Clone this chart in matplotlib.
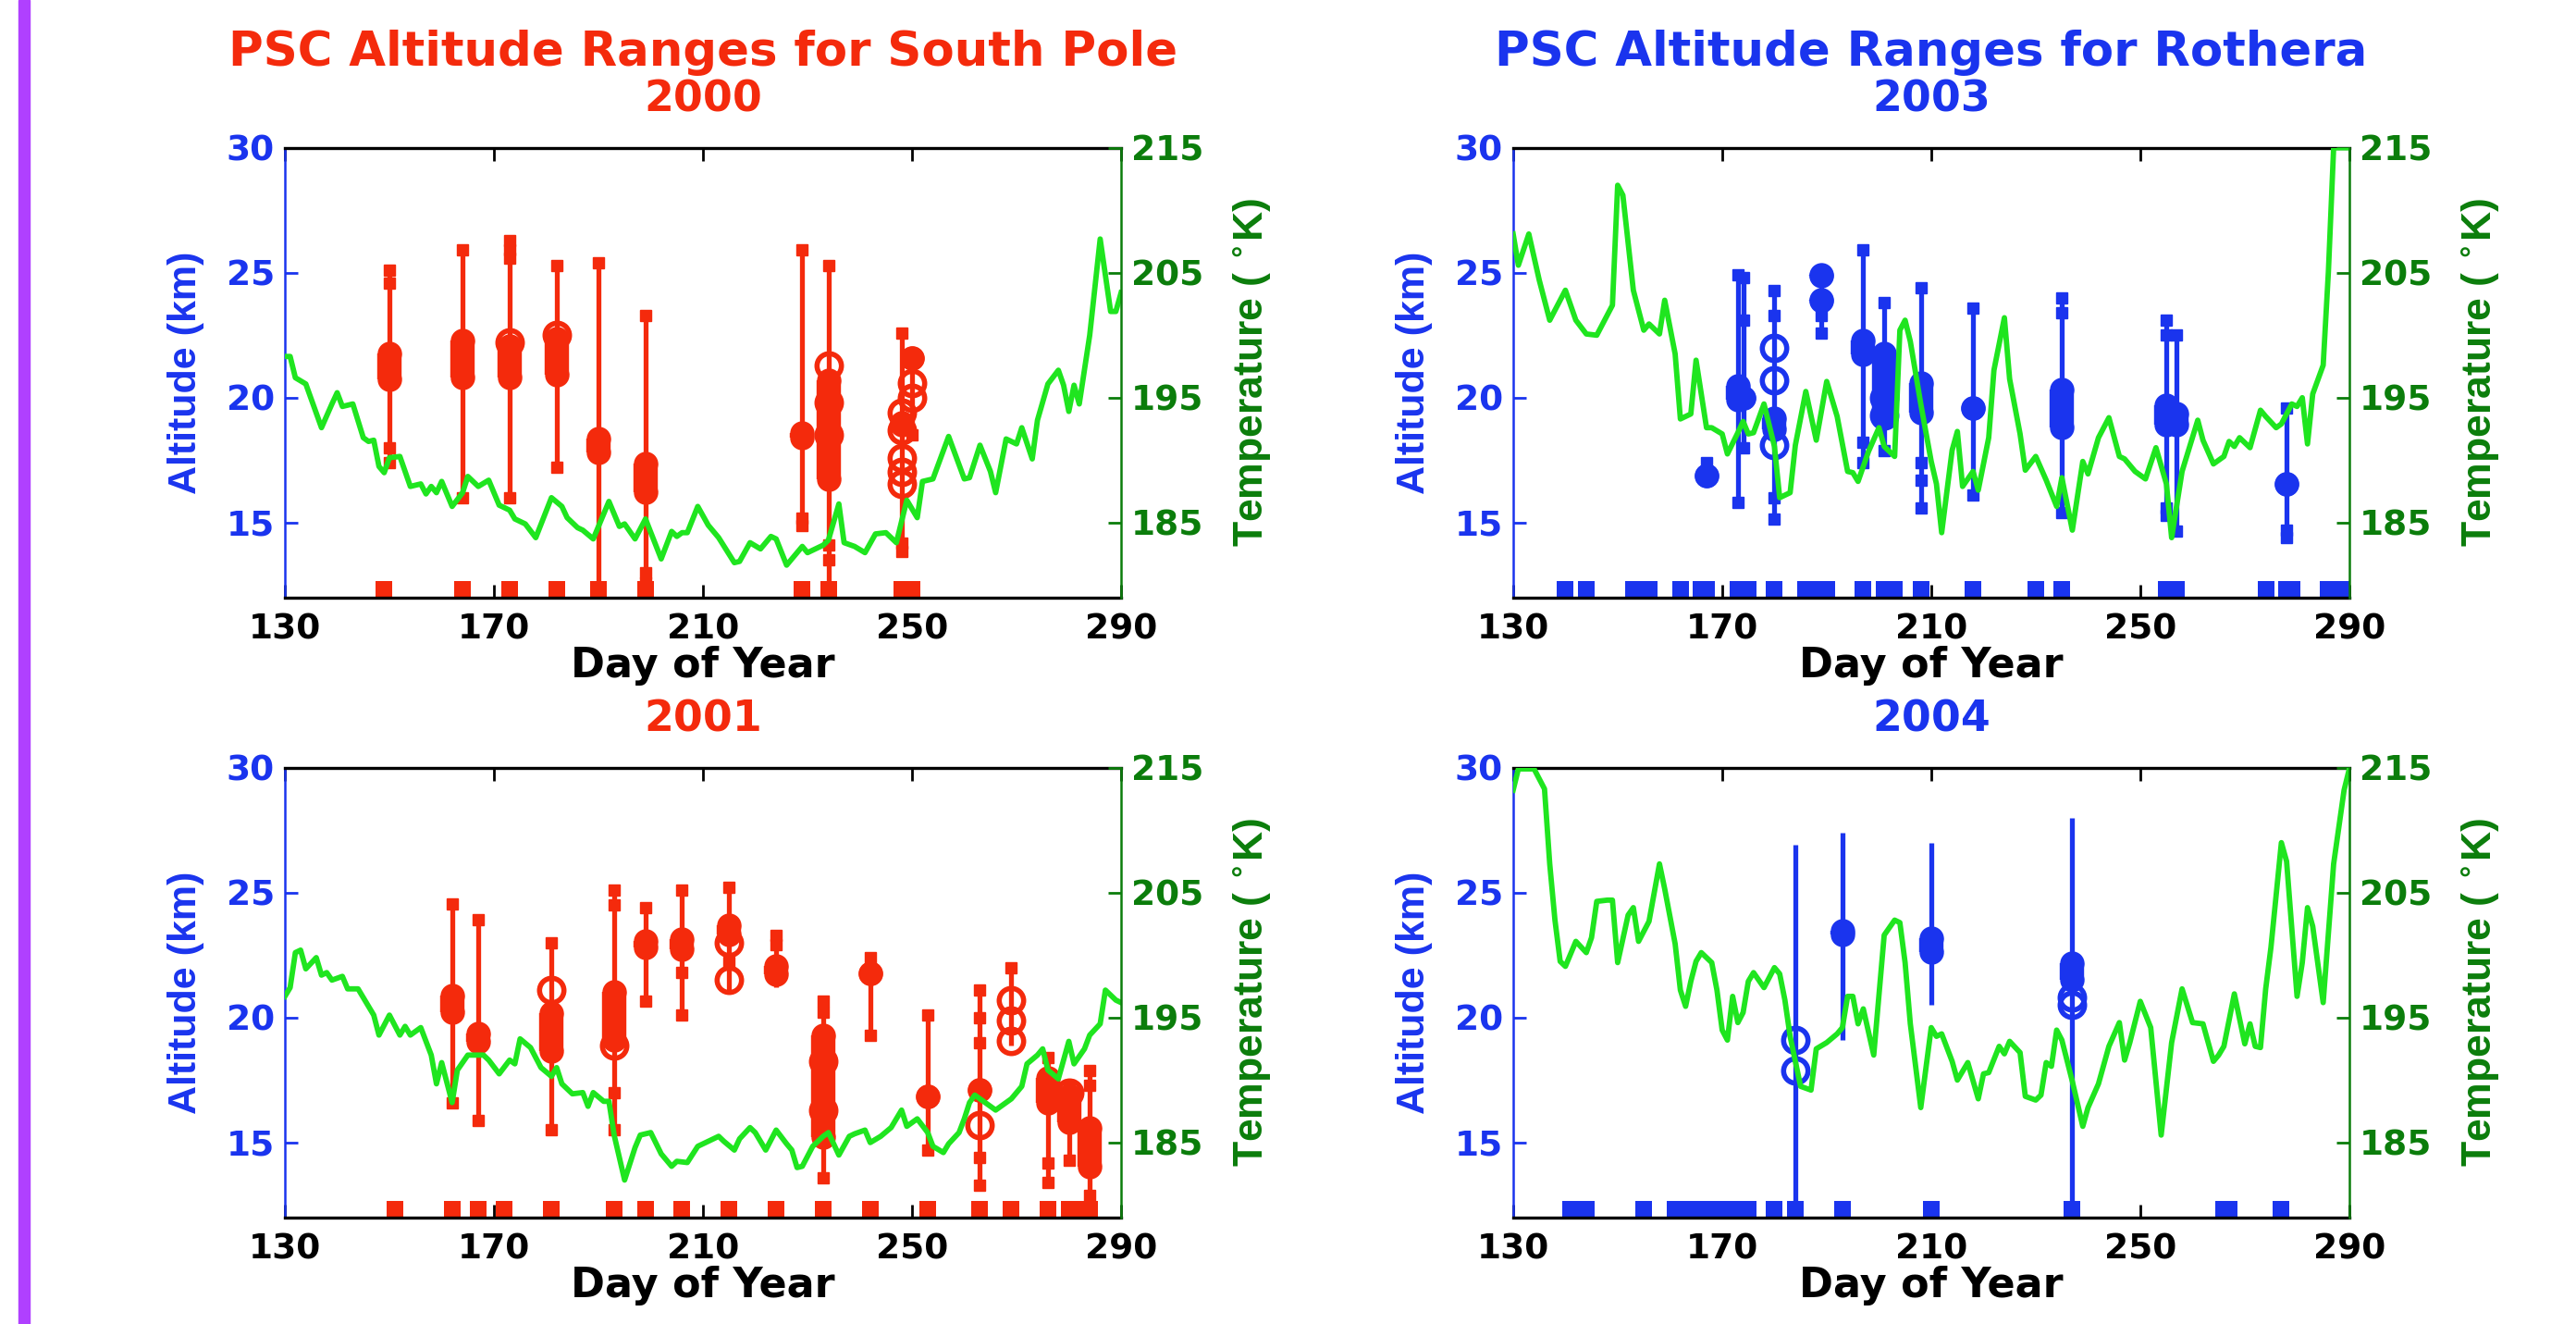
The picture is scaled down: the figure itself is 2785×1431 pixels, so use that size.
import matplotlib
matplotlib.use('Agg')
import matplotlib.pyplot as plt
from matplotlib.patches import Rectangle

plt.rcParams['font.family'] = ['DejaVu Sans']
plt.rcParams['font.weight'] = 'bold'

RED = '#f42a0c'
BLUE = '#1a34ee'
GREEN = '#1fe51f'
DKGREEN = '#0b7d0b'
PURPLE = '#b040ff'

# ---- South Pole 2000 ----
t2000_day = [130, 131, 132, 134, 137, 139, 140, 141, 143, 145, 146, 147, 148, 149, 150, 152, 154, 156, 157,
             158, 159, 160, 162, 164, 165, 167, 169, 171, 173, 174, 176, 178, 181, 183, 184, 186, 187, 189,
             192, 194, 195, 197, 199, 202, 204, 205, 206, 207, 209, 211, 213, 216, 217, 219, 221, 223, 224,
             226, 229, 230, 233, 234, 236, 237, 239, 241, 243, 245, 247, 249, 251, 252, 254, 257, 260, 261,
             263, 265, 266, 268, 270, 271, 273, 274, 276, 278, 279, 280, 281, 282, 284, 286, 288, 289, 290]
t2000_temp = [198.3, 198.3, 196.6, 196.1, 192.6, 194.5, 195.4, 194.3, 194.5, 191.8, 191.5, 191.6, 189.5, 189.0,
              190.2, 190.3, 187.9, 188.1, 187.3, 187.9, 187.4, 188.3, 186.3, 187.4, 188.7, 187.9, 188.4, 186.4,
              186.0, 185.3, 184.9, 183.8, 187.0, 186.3, 185.4, 184.6, 184.4, 183.7, 186.7, 184.7, 184.9, 183.7,
              185.3, 182.1, 184.3, 183.9, 184.2, 184.2, 186.3, 184.8, 183.8, 181.8, 181.9, 183.4, 182.9, 183.9,
              183.7, 181.6, 183.1, 182.6, 183.2, 183.6, 186.5, 183.4, 183.1, 182.6, 184.1, 184.2, 183.4, 186.8,
              185.4, 188.3, 188.5, 191.9, 188.5, 188.6, 191.2, 189.1, 187.4, 191.7, 191.3, 192.6, 190.1, 193.2,
              196.1, 197.2, 196.0, 193.9, 196.0, 194.5, 200.0, 207.7, 201.9, 201.9, 203.4]
p2000_day = [150, 164, 173, 182, 190, 199, 229, 234, 248, 250]
p2000_lo = [17.4, 16.0, 16.0, 17.2, 12.0, 12.6, 14.9, 12.0, 13.85, 18.5]
p2000_hi = [25.1, 25.9, 26.35, 25.3, 25.4, 23.3, 25.9, 25.3, 22.6, 22.0]
p2000_blob = [[(20.3, 22.2)], [(20.4, 22.7)], [(20.4, 22.5)], [(20.5, 22.8)], [(17.4, 18.8)], [(15.8, 17.8)],
              [(18.0, 19.0)], [(16.3, 21.1)], [(18.5, 19.4)], [(21.2, 22.0)]]
p2000_ring = [[], [], [22.2], [22.5], [], [], [], [21.3, 19.8, 18.5], [19.4, 18.7, 17.6, 17.05, 16.55],
              [20.6, 20.0]]
p2000_cap = [[25.1, 24.6, 18.0, 17.4], [25.9, 16.0], [26.3, 25.9, 25.6, 16.0], [25.3, 17.2], [25.4],
             [23.3, 13.0, 12.6], [25.9, 15.2, 14.9], [25.3, 14.1, 13.5], [22.6, 14.2, 13.85], [18.5]]
obs2000 = [149, 164, 173, 182, 190, 199, 229, 234, 248, 250]

# ---- South Pole 2001 ----
t2001_day = [130, 131, 132, 133, 134, 136, 137, 138, 139, 141, 142, 144, 146, 147, 148, 150, 152, 153, 154,
             156, 158, 159, 160, 162, 163, 165, 168, 169, 171, 173, 174, 175, 177, 179, 181, 182, 183, 185,
             187, 188, 189, 191, 192, 193, 195, 197, 198, 200, 202, 204, 205, 207, 209, 211, 213, 214, 216,
             217, 219, 220, 222, 224, 226, 227, 228, 229, 231, 233, 234, 236, 238, 239, 241, 242, 244, 246,
             248, 249, 251, 253, 254, 256, 257, 259, 260, 261, 262, 264, 266, 267, 269, 271, 272, 274, 275,
             276, 278, 280, 281, 283, 284, 286, 287, 289, 290]
t2001_temp = [196.7, 197.4, 200.2, 200.4, 198.9, 199.8, 198.4, 198.6, 198.0, 198.3, 197.3, 197.3, 195.9, 195.2,
              193.6, 195.2, 193.6, 194.3, 193.6, 194.2, 192.0, 189.7, 191.4, 188.2, 190.8, 192.0, 192.0, 191.6,
              190.5, 191.6, 191.3, 193.3, 192.6, 191.0, 190.3, 191.0, 189.7, 188.9, 189.0, 187.9, 189.0, 188.3,
              188.3, 185.6, 182.0, 184.6, 185.6, 185.8, 184.1, 183.1, 183.5, 183.4, 184.7, 185.1, 185.5, 185.1,
              184.4, 185.3, 186.2, 185.8, 184.4, 186.0, 184.9, 184.4, 183.0, 183.1, 184.7, 185.5, 185.8, 184.0,
              185.5, 185.7, 186.0, 185.0, 185.5, 186.2, 187.6, 186.3, 186.9, 185.8, 184.7, 184.2, 184.9, 185.8,
              186.9, 188.2, 188.8, 188.2, 187.6, 187.9, 188.5, 189.5, 191.3, 192.0, 192.5, 190.8, 190.1, 193.1,
              191.3, 192.5, 193.6, 194.5, 197.2, 196.4, 196.2]
p2001_day = [162, 167, 181, 193, 199, 206, 215, 224, 233, 242, 253, 263, 269, 276, 280, 284]
p2001_lo = [16.6, 15.9, 15.5, 15.5, 20.65, 20.1, 21.1, 21.2, 13.6, 19.3, 14.7, 13.3, 18.9, 13.4, 14.3, 12.3]
p2001_hi = [24.55, 23.9, 23.0, 25.1, 24.4, 25.1, 25.2, 23.3, 20.65, 22.4, 20.1, 21.1, 22.0, 18.4, 17.3, 17.9]
p2001_blob = [[(19.8, 21.3)], [(18.6, 19.8)], [(18.25, 20.6)], [(18.7, 21.45)], [(22.4, 23.5)], [(22.3, 23.55)],
              [(22.9, 24.1)], [(21.3, 22.5)], [(14.8, 19.7)], [(21.45, 22.1)], [(16.5, 17.2)], [(16.8, 17.45)],
              [], [(16.15, 18.0)], [(15.4, 17.3)], [(13.6, 16.0)]]
p2001_ring = [[], [], [21.1], [18.9], [], [], [21.5, 23.0], [], [18.25, 16.3], [], [], [15.7],
              [20.7, 19.9, 19.05], [], [17.0], []]
p2001_cap = [[24.55, 16.6], [23.9, 15.9], [23.0, 15.5], [25.1, 24.5, 17.0, 15.5], [24.4, 20.65],
             [25.1, 21.8, 20.1], [25.2, 22.2], [23.3, 22.9], [20.65, 20.2, 13.6], [22.4, 19.3], [20.1, 14.7],
             [21.1, 20.0, 19.0, 14.4, 13.3], [22.0], [18.4, 14.2, 13.4], [17.3, 14.3], [17.9, 17.3, 12.9]]
obs2001 = [151, 162, 167, 172, 181, 193, 199, 206, 215, 224, 233, 242, 253, 263, 269, 276, 280, 282, 284]

# ---- Rothera 2003 ----
t2003_day = [130, 131, 133, 135, 137, 140, 142, 144, 146, 147, 149, 150, 151, 153, 155, 156, 158, 159, 161,
             162, 164, 165, 167, 168, 170, 171, 173, 174, 175, 176, 178, 180, 181, 183, 184, 186, 188, 190,
             192, 194, 195, 196, 198, 200, 201, 203, 204, 205, 206, 208, 210, 211, 212, 214, 215, 216, 218,
             219, 221, 222, 224, 225, 227, 228, 230, 232, 234, 235, 237, 239, 240, 242, 244, 246, 247, 249,
             251, 253, 255, 256, 258, 261, 262, 264, 266, 267, 268, 269, 271, 273, 274, 276, 277, 279, 280,
             281, 282, 283, 285, 286, 287, 288, 290]
t2003_temp = [208.1, 205.6, 208.1, 204.4, 201.2, 203.6, 201.2, 200.1, 200.0, 200.8, 202.4, 212.0, 211.2, 203.6,
              200.4, 200.9, 200.1, 202.8, 198.5, 193.3, 193.7, 198.0, 192.6, 192.6, 192.1, 190.5, 192.2, 193.1,
              192.1, 192.2, 194.5, 191.1, 187.0, 187.4, 191.2, 195.5, 191.6, 196.3, 193.5, 189.1, 189.0, 188.3,
              190.7, 192.6, 191.1, 190.3, 200.4, 201.2, 199.5, 194.5, 189.9, 188.1, 184.2, 190.8, 192.3, 187.9,
              189.1, 187.6, 191.8, 197.2, 201.4, 196.5, 192.1, 189.2, 190.3, 188.4, 186.3, 188.6, 184.4, 189.9,
              188.9, 191.8, 193.4, 190.3, 190.1, 189.1, 188.5, 191.0, 188.1, 183.8, 189.1, 193.2, 191.6, 189.7,
              190.3, 191.5, 191.1, 191.8, 191.0, 194.0, 193.5, 192.6, 192.9, 194.5, 194.3, 195.0, 191.3, 195.3,
              197.6, 205.1, 215.0, 215.0, 215.0]
p2003_day = [167, 173, 174, 180, 189, 197, 201, 208, 218, 235, 255, 257, 278]
p2003_lo = [16.6, 15.8, 18.0, 15.15, 22.6, 17.4, 17.9, 15.6, 16.1, 15.4, 15.3, 14.65, 14.4]
p2003_hi = [17.4, 24.9, 24.8, 24.3, 24.9, 25.9, 23.8, 24.4, 23.6, 24.0, 23.1, 22.5, 19.6]
p2003_blob = [[(16.5, 17.25)], [(19.5, 20.9)], [(19.6, 20.4)], [(18.3, 19.6)], [(24.45, 25.35), (23.45, 24.35)],
              [(21.3, 22.7)], [(18.9, 22.2)], [(19.0, 21.0)], [(19.15, 20.0)], [(18.4, 20.75)], [(18.5, 20.1)],
              [(18.5, 19.8)], [(16.2, 16.9)]]
p2003_ring = [[], [], [], [22.0, 20.7, 18.1], [], [], [20.0, 19.3], [], [], [], [], [], []]
p2003_cap = [[17.4], [24.9, 15.8], [24.8, 23.1, 18.0], [24.3, 23.3, 16.0, 15.15], [23.3, 22.6],
             [25.9, 18.2, 17.4], [23.8, 17.9], [24.4, 17.4, 16.7, 15.6], [23.6, 16.1], [24.0, 23.4, 15.4],
             [23.1, 22.5, 15.6, 15.3], [22.5, 14.65], [19.6, 14.7, 14.4]]
obs2003 = [140, 144, 153, 156, 162, 166, 167, 173, 175, 180, 186, 188, 190, 197, 201, 203, 208, 218, 230, 235,
           255, 257, 274, 278, 279, 286, 289]

# ---- Rothera 2004 ----
t2004_day = [130, 131, 134, 136, 137, 138, 139, 140, 142, 144, 145, 146, 148, 149, 150, 152, 153, 154, 156,
             158, 159, 161, 162, 163, 164, 165, 166, 168, 169, 170, 171, 172, 173, 174, 175, 176, 177, 178,
             180, 181, 182, 183, 185, 187, 188, 190, 192, 193, 194, 195, 196, 197, 199, 201, 203, 204, 205,
             206, 208, 210, 211, 212, 214, 215, 217, 219, 220, 221, 223, 224, 225, 227, 228, 230, 231, 232,
             233, 234, 235, 237, 239, 240, 242, 244, 246, 247, 248, 250, 252, 254, 256, 258, 260, 262, 264,
             265, 266, 268, 270, 271, 272, 273, 274, 275, 277, 278, 280, 281, 282, 283, 285, 287, 289, 290]
t2004_temp = [213.2, 214.9, 214.9, 213.3, 207.3, 202.8, 199.5, 199.1, 201.1, 200.2, 201.4, 204.3, 204.4, 204.4,
              199.4, 203.2, 203.8, 201.1, 202.7, 207.3, 205.3, 200.9, 197.2, 195.9, 197.9, 199.5, 200.2, 199.4,
              197.2, 194.0, 193.2, 196.7, 194.6, 195.4, 197.9, 198.6, 198.0, 197.4, 199.0, 198.5, 196.4, 193.5,
              189.5, 189.2, 192.5, 193.0, 193.7, 194.2, 196.7, 196.7, 194.5, 195.7, 192.0, 201.6, 202.8, 202.6,
              199.4, 194.5, 187.8, 194.2, 193.5, 193.7, 191.5, 190.0, 191.4, 188.5, 190.5, 190.6, 192.7, 192.1,
              193.1, 192.2, 188.7, 188.4, 188.8, 191.4, 191.1, 194.0, 193.2, 189.9, 186.3, 187.8, 189.7, 192.7,
              194.6, 191.6, 193.0, 196.3, 194.2, 185.6, 193.0, 197.3, 194.6, 194.5, 191.5, 192.0, 192.7, 196.9,
              192.9, 194.5, 192.7, 192.6, 197.3, 200.6, 209.0, 207.5, 196.7, 199.4, 203.8, 202.3, 196.2, 207.3,
              213.2, 214.9]
p2004_day = [184, 193, 210, 237]
p2004_lo = [12.0, 19.1, 20.5, 12.0]
p2004_hi = [26.9, 27.4, 27.0, 28.0]
p2004_blob = [[], [(22.9, 23.9)], [(22.2, 23.6)], [(21.1, 22.6)]]
p2004_ring = [[19.1, 17.9], [], [], [20.8, 20.5]]
p2004_cap = [[], [], [], []]
obs2004 = [141, 144, 155, 161, 163, 166, 169, 172, 175, 180, 184, 193, 210, 237, 266, 267, 277]

fig = plt.figure(figsize=(27.85, 14.31), dpi=100)
fig.patches.append(Rectangle((20 / 2785, 0), 12 / 2785, 1, transform=fig.transFigure,
                             color=PURPLE, zorder=0))

YLAB_FONT = ['Liberation Sans', 'DejaVu Sans']
BLOB_R = 0.42  # half height of the circle marker, km
MS = 19


def panel(rect, color, tday, ttemp, pday, plo, phi, pblob, pring, pcap, obs, year, title=None):
    ax = fig.add_axes(rect)
    ax.set_xlim(130, 290)
    ax.set_ylim(12, 30)
    for d, lo, hi, blobs, rings, caps in zip(pday, plo, phi, pblob, pring, pcap):
        ax.plot([d, d], [lo, hi], color=color, lw=3.8, solid_capstyle='butt')
        for b0, b1 in blobs:
            b0, b1 = b0 + BLOB_R, b1 - BLOB_R
            if b1 < b0:
                b0 = b1 = (b0 + b1) / 2
            ax.plot([d, d], [b0, b1], color=color, lw=MS, solid_capstyle='butt',
                    marker='o', ms=MS, mew=0)
        if rings:
            ax.plot([d] * len(rings), rings, 'o', mfc='none', mec=color, ms=MS, mew=4)
        if caps:
            ax.plot([d] * len(caps), caps, 's', color=color, ms=8)
    ax.plot(obs, [12.33] * len(obs), 's', color=color, ms=13, mew=0)

    ax.set_xticks([130, 170, 210, 250, 290])
    ax.set_yticks([15, 20, 25, 30])
    ax.tick_params(axis='x', direction='in', top=True, length=10, width=2, labelsize=27, pad=12)
    ax.tick_params(axis='y', direction='in', length=10, width=2, labelsize=27, pad=8,
                   colors=BLUE)
    for s in ('top', 'bottom'):
        ax.spines[s].set_linewidth(2.4)
        ax.spines[s].set_color('black')
    ax.spines['left'].set_color(BLUE)
    ax.spines['left'].set_linewidth(1.8)
    ax.spines['right'].set_visible(False)

    ax2 = ax.twinx()
    ax2.set_ylim(179, 215)
    ax2.plot(tday, ttemp, color=GREEN, lw=4.2)
    ax2.set_yticks([185, 195, 205, 215])
    ax2.tick_params(axis='y', direction='in', length=10, width=2, labelsize=27, pad=8,
                    colors=DKGREEN)
    ax2.spines['right'].set_color(DKGREEN)
    ax2.spines['right'].set_linewidth(1.8)
    for s in ('top', 'bottom', 'left'):
        ax2.spines[s].set_visible(False)

    ax.text(0.5, -0.152, 'Day of Year', transform=ax.transAxes, ha='center', va='center',
            fontsize=32, fontweight='bold')
    ax.text(0.5, 1.107, year, transform=ax.transAxes, ha='center', va='center', color=color,
            fontsize=33, fontweight='bold')
    if title:
        ax.text(0.5, 1.212, title, transform=ax.transAxes, ha='center', va='center', color=color,
                fontsize=37, fontweight='bold')
    ax.text(-0.118, 0.5, 'Altitude (km)', transform=ax.transAxes, rotation=90, ha='center',
            va='center', color=BLUE, fontsize=31, fontweight='bold', family=YLAB_FONT)
    ax.text(1.157, 0.5, 'Temperature ( $^{\\circ}$K)', transform=ax.transAxes, rotation=90,
            ha='center', va='center', color=DKGREEN, fontsize=32, fontweight='bold', family=YLAB_FONT)
    return ax


W = 0.3246
H = 0.3398
panel([0.1106, 0.5486, W, H], RED, t2000_day, t2000_temp, p2000_day, p2000_lo, p2000_hi, p2000_blob,
      p2000_ring, p2000_cap, obs2000, '2000', 'PSC Altitude Ranges for South Pole')
panel([0.1106, 0.0804, W, H], RED, t2001_day, t2001_temp, p2001_day, p2001_lo, p2001_hi, p2001_blob,
      p2001_ring, p2001_cap, obs2001, '2001')
panel([0.5874, 0.5486, W, H], BLUE, t2003_day, t2003_temp, p2003_day, p2003_lo, p2003_hi, p2003_blob,
      p2003_ring, p2003_cap, obs2003, '2003', 'PSC Altitude Ranges for Rothera')
panel([0.5874, 0.0804, W, H], BLUE, t2004_day, t2004_temp, p2004_day, p2004_lo, p2004_hi, p2004_blob,
      p2004_ring, p2004_cap, obs2004, '2004')

fig.savefig('out.png', dpi=100)
